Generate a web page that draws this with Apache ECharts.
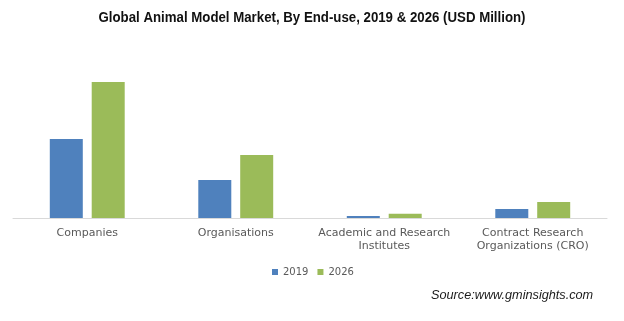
<!DOCTYPE html>
<html>
<head>
<meta charset="utf-8">
<script src="https://cdn.jsdelivr.net/npm/echarts@6/dist/echarts.min.js"></script>
<style>html,body{margin:0;padding:0;background:#fff;}#c{width:624px;height:321px;}</style>
</head>
<body>
<div id="c"></div>
<script>
const categories = ['Companies', 'Organisations', 'Academic and Research\nInstitutes', 'Contract Research\nOrganizations (CRO)'];
const values2019 = [790, 380, 20, 90];
const values2026 = [1360, 630, 43, 160];
const seriesNames = ['2019', '2026'];
const titleText = 'Global Animal Model Market, By End-use, 2019 & 2026 (USD Million)';

// measure the title to squeeze it horizontally like a narrow font
const titleFont = 'bold 14.5px "Liberation Sans"';
const cv = document.createElement('canvas').getContext('2d');
cv.font = titleFont;
const titleW = cv.measureText(titleText).width;
const titleScale = 427 / titleW;

const chart = echarts.init(document.getElementById('c'), null, {renderer: 'canvas'});
chart.setOption({
  animation: false,
  backgroundColor: '#ffffff',
  title: [{
    text: 'Source:www.gminsights.com',
    left: 426, top: 284,
    textStyle: {fontFamily: 'Liberation Sans', fontStyle: 'italic', fontWeight: 'normal', fontSize: 12.7, color: '#1a1a1a'}
  }],
  graphic: [{
    type: 'text',
    x: 312, y: 17.5,
    scaleX: titleScale,
    style: {
      text: titleText,
      font: titleFont,
      fill: '#111111',
      align: 'center',
      verticalAlign: 'middle'
    }
  }],
  legend: {
    data: seriesNames,
    left: 267, top: 262,
    icon: 'rect', itemWidth: 6, itemHeight: 6, itemGap: 9,
    textStyle: {fontFamily: 'DejaVu Sans', fontSize: 10, color: '#595959'}
  },
  grid: {left: 13, right: 17, top: 70, bottom: 103, containLabel: false},
  xAxis: {
    type: 'category',
    data: categories,
    axisLine: {lineStyle: {color: '#d9d9d9', width: 1}},
    axisTick: {show: false},
    axisLabel: {fontFamily: 'DejaVu Sans', fontSize: 11, color: '#595959', lineHeight: 13, margin: 9, interval: 0}
  },
  yAxis: {
    type: 'value', min: 0, max: 1480,
    show: false,
    splitLine: {show: false}
  },
  series: [{
    name: seriesNames[0], type: 'bar', data: values2019,
    barWidth: 33, barGap: '27%',
    itemStyle: {color: '#4f81bd'}
  }, {
    name: seriesNames[1], type: 'bar', data: values2026,
    barWidth: 33, barGap: '27%',
    itemStyle: {color: '#9bbb59'}
  }]
});
</script>
</body>
</html>
